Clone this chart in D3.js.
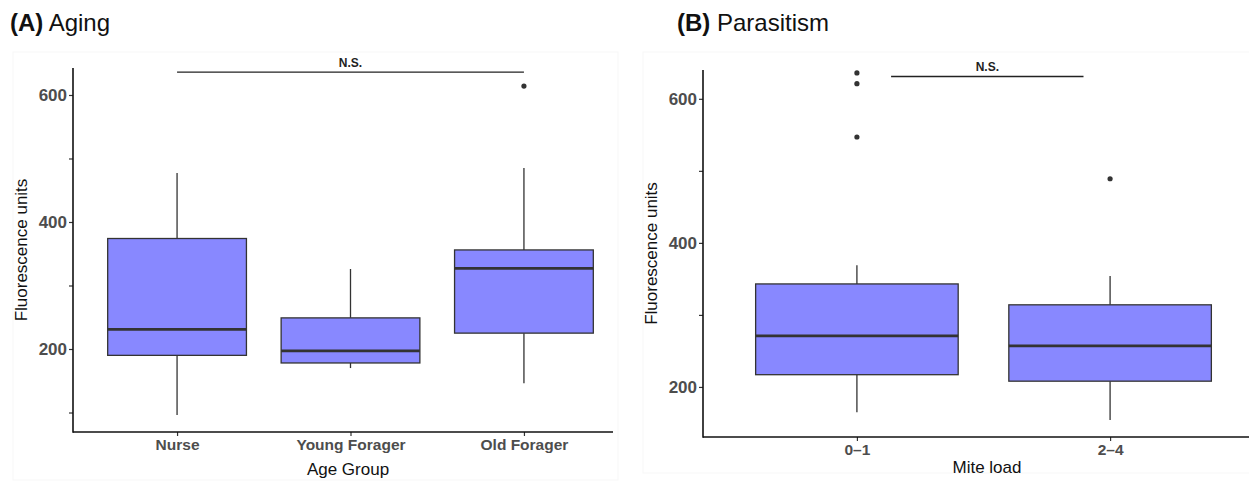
<!DOCTYPE html>
<html>
<head>
<meta charset="utf-8">
<script src="https://cdn.jsdelivr.net/npm/d3@7"></script>
<style>
  body { margin: 0; background: #fff; }
  svg { font-family: "Liberation Sans", Arial, Helvetica, sans-serif; display: block; }
  .tick-label { font-weight: bold; fill: #4d4d4d; }
</style>
</head>
<body>
<svg width="1249" height="483"></svg>
<script>
// Panel A: Aging
const ageGroups = ['Nurse', 'Young Forager', 'Old Forager'];
const ageStats = [
  // [lowerWhisker, q1, median, q3, upperWhisker]
  [96, 190, 231, 374, 477],
  [170, 178, 197, 249, 326],
  [146, 225, 327, 356, 485]
];
const ageOutliers = [[], [], [614]];

// Panel B: Parasitism
const miteLoads = ['0\u20131', '2\u20134'];
const miteStats = [
  [165, 217, 271, 343, 369],
  [154, 208, 257, 314, 354]
];
const miteOutliers = [[636, 621, 547], [489]];

const yTicks = [100, 200, 300, 400, 500, 600];
const yTickLabels = ['', '200', '', '400', '', '600'];

const svg = d3.select('svg');

const boxFill = '#8888ff';
const ink = '#333333';

const drawPanel = opts => {
  const {title, letter, titleX, cats, stats, outliers, xScale, yScale,
         axisLeftX, axisRightX, xLabel, xLabelX, xLabelOffset, bracket, ticks} = opts;

  const g = svg.append('g');

  // faint panel frame
  g.append('rect')
    .attr('x', opts.frame[0]).attr('y', opts.frame[1])
    .attr('width', opts.frame[2]).attr('height', opts.frame[3])
    .attr('fill', 'none').attr('stroke', '#f7f7f7').attr('stroke-width', 1);

  // title
  const t = g.append('text')
    .attr('x', titleX).attr('y', 31)
    .attr('font-size', 24).attr('fill', '#111');
  t.append('tspan').attr('font-weight', 'bold').text(letter);
  t.append('tspan').text(' ' + title);

  const yBottom = yScale.range()[0];
  const yTop = yScale.range()[1];

  // y axis
  const yAxis = d3.axisLeft(yScale)
    .tickValues(ticks.filter(v => v >= yScale.domain()[0]))
    .tickSize(4)
    .tickFormat(v => yTickLabels[yTicks.indexOf(v)]);
  const yAxisG = g.append('g')
    .attr('transform', `translate(${axisLeftX}, 0)`)
    .call(yAxis);
  yAxisG.select('.domain').remove();
  yAxisG.selectAll('line').attr('stroke', '#333').attr('stroke-width', 1.2);
  yAxisG.selectAll('text')
    .attr('class', 'tick-label')
    .attr('font-size', 17)
    .attr('font-family', null)
    .attr('x', -6);

  // x axis
  const xAxis = d3.axisBottom(xScale)
    .tickValues(cats.map((c, i) => i + 1))
    .tickSize(4)
    .tickFormat(i => cats[i - 1]);
  const xAxisG = g.append('g')
    .attr('transform', `translate(0, ${yBottom})`)
    .call(xAxis);
  xAxisG.select('.domain').remove();
  xAxisG.selectAll('line').attr('stroke', '#333').attr('stroke-width', 1.2);
  xAxisG.selectAll('text')
    .attr('class', 'tick-label')
    .attr('font-size', 15.5)
    .attr('font-family', null)
    .attr('y', 7);

  // axis lines
  g.append('line')
    .attr('x1', axisLeftX).attr('x2', axisLeftX)
    .attr('y1', yTop).attr('y2', yBottom + 0.75)
    .attr('stroke', '#111').attr('stroke-width', 1.6);
  g.append('line')
    .attr('x1', axisLeftX).attr('x2', axisRightX)
    .attr('y1', yBottom).attr('y2', yBottom)
    .attr('stroke', '#111').attr('stroke-width', 1.6);

  // axis titles
  g.append('text')
    .attr('transform', `translate(${axisLeftX - 46}, ${(yTop + yBottom) / 2}) rotate(-90)`)
    .attr('text-anchor', 'middle')
    .attr('font-size', 17).attr('fill', '#111')
    .text('Fluorescence units');
  g.append('text')
    .attr('x', xLabelX).attr('y', yBottom + xLabelOffset)
    .attr('text-anchor', 'middle')
    .attr('font-size', 17).attr('fill', '#111')
    .text(xLabel);

  // boxes
  const halfW = (xScale(2) - xScale(1)) * 0.4;
  const box = g.selectAll('g.box').data(stats).enter()
    .append('g').attr('class', 'box');

  box.append('line')
    .attr('x1', (d, i) => xScale(i + 1)).attr('x2', (d, i) => xScale(i + 1))
    .attr('y1', d => yScale(d[0])).attr('y2', d => yScale(d[1]))
    .attr('stroke', ink).attr('stroke-width', 1.3);
  box.append('line')
    .attr('x1', (d, i) => xScale(i + 1)).attr('x2', (d, i) => xScale(i + 1))
    .attr('y1', d => yScale(d[3])).attr('y2', d => yScale(d[4]))
    .attr('stroke', ink).attr('stroke-width', 1.3);
  box.append('rect')
    .attr('x', (d, i) => xScale(i + 1) - halfW)
    .attr('width', halfW * 2)
    .attr('y', d => yScale(d[3]))
    .attr('height', d => yScale(d[1]) - yScale(d[3]))
    .attr('fill', boxFill)
    .attr('stroke', ink).attr('stroke-width', 1.3);
  box.append('line')
    .attr('x1', (d, i) => xScale(i + 1) - halfW)
    .attr('x2', (d, i) => xScale(i + 1) + halfW)
    .attr('y1', d => yScale(d[2])).attr('y2', d => yScale(d[2]))
    .attr('stroke', ink).attr('stroke-width', 2.8);

  // outliers
  outliers.forEach((pts, i) => {
    g.selectAll(null).data(pts).enter()
      .append('circle')
      .attr('cx', xScale(i + 1))
      .attr('cy', d => yScale(d))
      .attr('r', 2.6)
      .attr('fill', ink);
  });

  // significance bracket
  g.append('line')
    .attr('x1', xScale(bracket.from)).attr('x2', xScale(bracket.to))
    .attr('y1', yScale(bracket.y)).attr('y2', yScale(bracket.y))
    .attr('stroke', '#222').attr('stroke-width', 1.4);
  g.append('text')
    .attr('x', (xScale(bracket.from) + xScale(bracket.to)) / 2)
    .attr('y', yScale(bracket.y) - 5)
    .attr('text-anchor', 'middle')
    .attr('font-size', 12).attr('font-weight', 'bold').attr('fill', '#222')
    .text('N.S.');
};

// Panel A
drawPanel({
  title: 'Aging', letter: '(A)', titleX: 10,
  cats: ageGroups, stats: ageStats, outliers: ageOutliers,
  xScale: d3.scaleLinear().domain([0.4, 3.6]).range([73, 628]),
  yScale: d3.scaleLinear().domain([69.3, 642.5]).range([432, 68]),
  axisLeftX: 73, axisRightX: 613,
  xLabel: 'Age Group', xLabelX: 348, xLabelOffset: 43,
  bracket: {from: 1, to: 3, y: 636},
  ticks: yTicks,
  frame: [13, 52, 605, 428]
});

// Panel B
drawPanel({
  title: 'Parasitism', letter: '(B)', titleX: 677,
  cats: miteLoads, stats: miteStats, outliers: miteOutliers,
  xScale: d3.scaleLinear().domain([0.4, 2.6]).range([705, 1262]),
  yScale: d3.scaleLinear().domain([130.5, 640]).range([437, 70]),
  axisLeftX: 703, axisRightX: 1249,
  xLabel: 'Mite load', xLabelX: 987, xLabelOffset: 36,
  bracket: {from: 1.135, to: 1.895, y: 631},
  ticks: yTicks,
  frame: [643, 52, 620, 421]
});
</script>
</body>
</html>
